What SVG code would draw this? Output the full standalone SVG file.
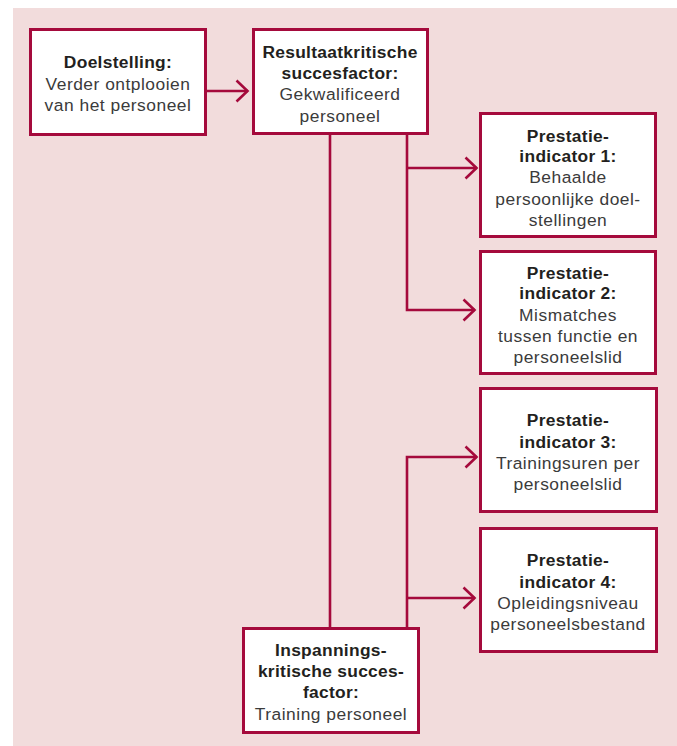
<svg xmlns="http://www.w3.org/2000/svg" width="677" height="746" viewBox="0 0 677 746">
<style>
.box{fill:#ffffff;stroke:#a50a3c;stroke-width:3}
.ln{fill:none;stroke:#a50a3c;stroke-width:2.6}
text{font-family:"Liberation Sans",Arial,sans-serif;font-size:17.4px;text-anchor:middle;fill:#3b3b3b;letter-spacing:0.5px}
.b{font-weight:bold;fill:#231f20;letter-spacing:0.3px}
</style>
<defs>
<marker id="ah" markerUnits="userSpaceOnUse" markerWidth="16" markerHeight="26" refX="13" refY="12" orient="auto">
<path d="M1.5,1.5 L12.5,12 L1.5,22.5" fill="none" stroke="#a50a3c" stroke-width="2.6"/>
</marker>
</defs>
<rect x="0" y="0" width="677" height="746" fill="#ffffff"/>
<rect x="13" y="8" width="664" height="738" fill="#f2dcdc"/>
<g id="connectors">
<path class="ln" d="M207,91 H248" marker-end="url(#ah)"/>
<path class="ln" d="M330,135 V627"/>
<path class="ln" d="M407,135 V310 H475" marker-end="url(#ah)"/>
<path class="ln" d="M407,168 H477" marker-end="url(#ah)"/>
<path class="ln" d="M407,627 V457 H477" marker-end="url(#ah)"/>
<path class="ln" d="M407,598 H475" marker-end="url(#ah)"/>
</g>
<g id="doelstelling">
<rect class="box" x="30.5" y="29.5" width="175" height="105"/>
<text class="b" x="118" y="68">Doelstelling:</text>
<text x="118" y="90">Verder ontplooien</text>
<text x="118" y="111">van het personeel</text>
</g>
<g id="resultaat">
<rect class="box" x="253.5" y="29.5" width="174" height="104"/>
<text class="b" x="340" y="58">Resultaatkritische</text>
<text class="b" x="340" y="79">succesfactor:</text>
<text x="340" y="100">Gekwalificeerd</text>
<text x="340" y="122">personeel</text>
</g>
<g id="pi1">
<rect class="box" x="480.5" y="113.5" width="175" height="123"/>
<text class="b" x="568" y="142">Prestatie-</text>
<text class="b" x="568" y="162">indicator 1:</text>
<text x="568" y="183">Behaalde</text>
<text x="568" y="205">persoonlijke doel-</text>
<text x="568" y="226">stellingen</text>
</g>
<g id="pi2">
<rect class="box" x="480.5" y="251.5" width="175" height="122"/>
<text class="b" x="568" y="279">Prestatie-</text>
<text class="b" x="568" y="299">indicator 2:</text>
<text x="568" y="321">Mismatches</text>
<text x="568" y="342">tussen functie en</text>
<text x="568" y="363">personeelslid</text>
</g>
<g id="pi3">
<rect class="box" x="480.5" y="388.5" width="176" height="123"/>
<text class="b" x="568" y="426">Prestatie-</text>
<text class="b" x="568" y="448">indicator 3:</text>
<text x="568" y="469">Trainingsuren per</text>
<text x="568" y="490">personeelslid</text>
</g>
<g id="pi4">
<rect class="box" x="480.5" y="528.5" width="176" height="123"/>
<text class="b" x="568" y="566">Prestatie-</text>
<text class="b" x="568" y="588">indicator 4:</text>
<text x="568" y="609">Opleidingsniveau</text>
<text x="568" y="630">personeelsbestand</text>
</g>
<g id="inspannings">
<rect class="box" x="243.5" y="628.5" width="175" height="104"/>
<text class="b" x="331" y="656">Inspannings-</text>
<text class="b" x="331" y="677">kritische succes-</text>
<text class="b" x="331" y="698">factor:</text>
<text x="331" y="720">Training personeel</text>
</g>
</svg>
